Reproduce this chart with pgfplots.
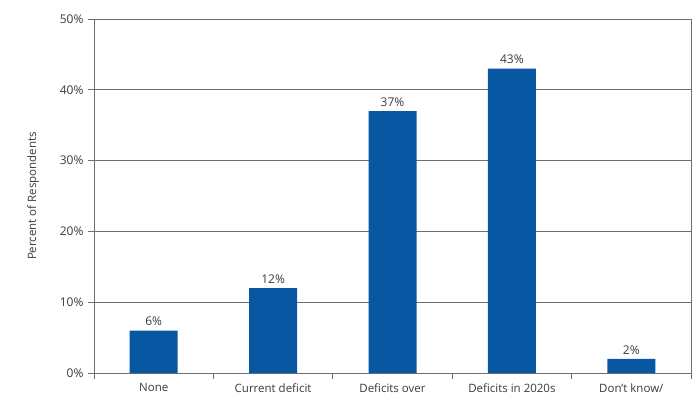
\documentclass[border=0pt]{standalone}
\usepackage{pgfplots}
\pgfplotsset{compat=1.18}
\usepackage{fontspec}
\setmainfont{Open Sans}
\definecolor{barblue}{HTML}{0757A3}
\definecolor{axgray}{HTML}{6E6E6E}
\definecolor{txt}{HTML}{3A3A3A}
\begin{document}
\begin{tikzpicture}[x=1pt,y=1pt]
\begin{axis}[
  at={(0,0)}, anchor=south west,
  scale only axis,
  width=597pt, height=354pt,
  xmin=-0.5, xmax=4.5,
  ymin=0, ymax=50,
  xtick pos=bottom, ytick pos=left,
  axis line style={axgray, line width=0.8pt},
  ytick={0,10,20,30,40,50},
  yticklabel={\pgfmathprintnumber{\tick}\%},
  /pgf/number format/assume math mode=true,
  ymajorgrids,
  grid style={axgray, line width=0.8pt},
  xtick={0,1,2,3,4},
  xticklabels={None,Current deficit,Deficits over,Deficits in 2020s,Don’t know/},
  major x tick style={draw=none},
  minor xtick={-0.5,0.5,1.5,2.5,3.5,4.5},
  minor x tick style={axgray, line width=0.8pt},
  minor tick length=6pt,
  major tick length=6pt,
  y tick style={axgray, line width=0.8pt},
  tick align=outside,
  yticklabel style={font=\fontsize{12}{14}\selectfont, text=txt, xshift=-1pt},
  xticklabel style={font=\fontsize{11.5}{14}\selectfont, text=txt, yshift=-1pt},
  ylabel={Percent of Respondents},
  ylabel style={font=\fontsize{11.5}{13}\selectfont, text=txt, yshift=14pt},
  ybar, bar width=48pt,
  nodes near coords={\pgfmathprintnumber{\pgfplotspointmeta}\%},
  nodes near coords style={font=\fontsize{12}{14}\selectfont, text=txt, yshift=1pt, /pgf/number format/assume math mode=true},
  clip=false,
]
\addplot[fill=barblue, draw=none] coordinates {(0,6) (1,12) (2,37) (3,43) (4,2)};
\end{axis}
\pgfresetboundingbox
\useasboundingbox (-94pt,-27pt) rectangle (606pt,373pt);
\end{tikzpicture}
\end{document}
